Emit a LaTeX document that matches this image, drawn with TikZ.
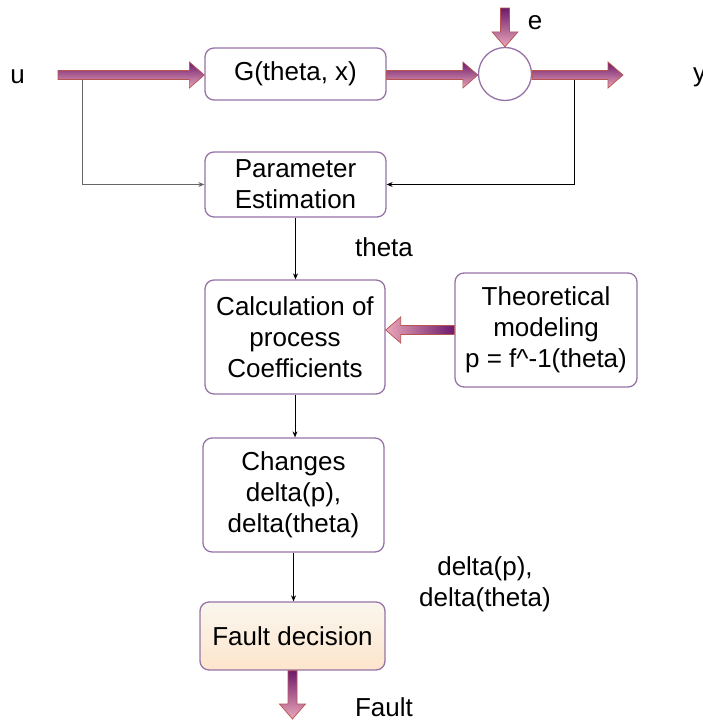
\documentclass[tikz,border=0pt]{standalone}
\usepackage{fontspec}
\setmainfont{Liberation Sans}
\usetikzlibrary{calc,arrows.meta}

\definecolor{boxline}{HTML}{9673A6}
\definecolor{fatline}{HTML}{B85450}
\definecolor{fatdark}{HTML}{6D1A6D}
\definecolor{fatlight}{HTML}{EAA7B9}
\definecolor{faulttop}{HTML}{FAF6EE}
\definecolor{faultbot}{HTML}{FDE5CC}

\tikzset{
  txt/.style={font=\fontsize{26}{31}\selectfont, align=center, inner sep=0pt},
  block/.style={txt, draw=boxline, line width=1.3pt, rounded corners=9pt, fill=white},
  sumnode/.style={circle, draw=boxline, line width=1.3pt, fill=white, minimum size=53pt, inner sep=0pt},
  fatarrow/.style={draw=fatline, line width=0.7pt, line join=miter},
  fatdown/.style={fatarrow, top color=fatdark, bottom color=fatlight},
  fatright/.style={fatarrow, top color=fatdark, bottom color=fatlight},
  fatleft/.style={fatarrow, left color=fatlight, right color=fatdark},
  conn/.style={line width=0.8pt, -{Stealth[length=6pt,width=5pt]}},
}

% horizontal block arrow from #1 to the x of #2; #3 = 1 rightwards, -1 leftwards
\newcommand\fathoriz[4]{%
  \draw[#4] let \p1=(#1), \p2=(#2), \n1={\x2-(#3)*15pt} in
    ({\x1},{\y1+4.5pt}) -- ({\n1},{\y1+4.5pt}) -- ({\n1},{\y1+13pt})
    -- ({\x2},{\y1}) -- ({\n1},{\y1-13pt}) -- ({\n1},{\y1-4.5pt})
    -- ({\x1},{\y1-4.5pt}) -- cycle;}
% downward block arrow from #1 to the y of #2
\newcommand\fatvert[3]{%
  \draw[#3] let \p1=(#1), \p2=(#2), \n1={\y2+15pt} in
    ({\x1-4.5pt},{\y1}) -- ({\x1-4.5pt},{\n1}) -- ({\x1-13pt},{\n1})
    -- ({\x1},{\y2}) -- ({\x1+13pt},{\n1}) -- ({\x1+4.5pt},{\n1})
    -- ({\x1+4.5pt},{\y1}) -- cycle;}

\begin{document}
\begin{tikzpicture}[x=1pt,y=-1pt]
\useasboundingbox (0,0) rectangle (702,720);

% blocks
\node[block, minimum width=181pt, minimum height=52pt] (G) at (295.5,74) {G(theta, x)};
\node[sumnode] (sum) at (505,74) {};
\node[block, minimum width=181pt, minimum height=65pt] (PE) at (295.5,184.5) {Parameter\\Estimation};
\node[block, minimum width=180pt, minimum height=114pt] (calc) at (295,337) {Calculation of\\process\\Coefficients};
\node[block, minimum width=182pt, minimum height=114pt] (theo) at (546,330) {Theoretical\\modeling\\p = f\textasciicircum-1(theta)};
\node[block, minimum width=181pt, minimum height=114pt] (chg) at (293.5,495) {Changes\\delta(p),\\delta(theta)};
\node[block, minimum width=185pt, minimum height=68pt, top color=faulttop, bottom color=faultbot] (fault) at (292.5,636) {Fault decision};

% free ends of the signal arrows
\coordinate (uin) at (58,75);
\coordinate (yout) at (623,75);
\coordinate (etop) at (505,8);
\coordinate (fout) at (294,719);
\coordinate (tapL) at (82,80);
\coordinate (tapR) at (574,80);

% labels
\node[txt] (ulab) at (17.5,77) {u};
\node[txt] (elab) at (535,23) {e};
\node[txt, anchor=west] (ylab) at (693,77) {y};
\node[txt] (thlab) at (384,247) {theta};
\node[txt] (dlab) at (485,584) {delta(p),\\delta(theta)};
\node[txt] (flab) at (384,707) {Fault};

% feedback to the estimator
\draw[conn, draw=black!60] (tapL) |- (PE.west);
\draw[conn] (tapR) |- (PE.east);

% signal block arrows
\fathoriz{uin}{G.west}{1}{fatright}
\fathoriz{G.east |- uin}{sum.west}{1}{fatright}
\fathoriz{sum.east |- uin}{yout}{1}{fatright}
\fatvert{etop}{sum.north}{fatdown}
\fathoriz{theo.west}{calc.east}{-1}{fatleft}
\fatvert{fault.south}{fout}{fatdown}

% processing chain
\draw[conn] (PE.south) -- (PE.south |- calc.north);
\draw[conn] (calc.south) -- (calc.south |- chg.north);
\draw[conn] (chg.south) -- (chg.south |- fault.north);
\end{tikzpicture}
\end{document}
